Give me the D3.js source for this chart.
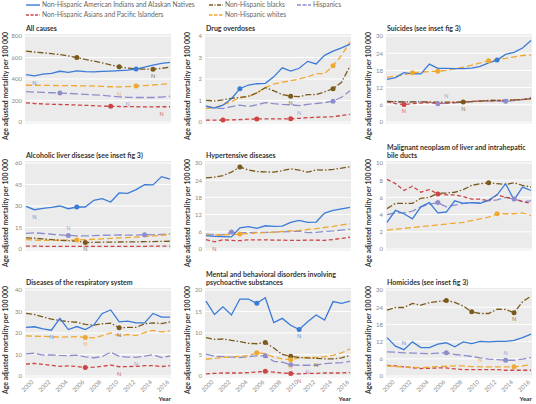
<!DOCTYPE html>
<html><head><meta charset="utf-8">
<script src="https://cdn.jsdelivr.net/npm/d3@7"></script>
<style>
body{margin:0;background:#fff}
text{font-family:Lato,"Open Sans",sans-serif}
</style>
</head><body>
<svg id="c" width="536" height="404"></svg>
<script>
// ---------- data ----------
const years = [1999,2000,2001,2002,2003,2004,2005,2006,2007,2008,2009,2010,2011,2012,2013,2014,2015,2016];
const xTickYears = [2000,2002,2004,2006,2008,2010,2012,2014,2016];
const seriesLabels = {
  aian:"Non-Hispanic American Indians and Alaskan Natives",
  black:"Non-Hispanic blacks",
  hisp:"Hispanics",
  asian:"Non-Hispanic Asians and Pacific Islanders",
  white:"Non-Hispanic whites"
};
const panelTitles = [
  ["All causes"],
  ["Drug overdoses"],
  ["Suicides (see inset fig 3)"],
  ["Alcoholic liver disease (see inset fig 3)"],
  ["Hypertensive diseases"],
  ["Malignant neoplasm of liver and intrahepatic","bile ducts"],
  ["Diseases of the respiratory system"],
  ["Mental and behavioral disorders involving","psychoactive substances"],
  ["Homicides (see inset fig 3)"]
];
const panelTicks = [
  [0,200,400,600,800],
  [0,1,2,3,4],
  [0,6,12,18,24,30],
  [0,15,30,45,60],
  [0,6,12,18,24,30],
  [0,2,4,6,8,10],
  [0,10,20,30,40],
  [0,5,10,15,20],
  [0,6,12,18,24,30]
];

const allCauses = {
  aian:[440,430,445,452,472,462,475,468,466,470,474,478,482,492,510,530,545,555],
  black:[660,651,644,636,627,614,600,582,566,550,531,513,501,494,492,491,499,510],
  hisp:[282,278,275,272,269,266,262,257,252,248,241,234,229,228,228,228,232,240],
  asian:[178,172,168,165,163,161,158,155,152,148,146,144,143,142,141,141,142,142],
  white:[342,342,340,340,338,338,337,336,334,332,328,327,329,334,339,344,350,357]
};
const drugOverdoses = {
  aian:[0.73,0.65,0.78,1.08,1.55,1.72,1.78,1.8,2.1,2.52,2.37,2.5,2.82,2.7,3.1,3.3,3.45,3.62],
  black:[1.01,0.98,1.03,1.1,1.14,1.2,1.35,1.6,1.45,1.28,1.2,1.18,1.27,1.28,1.4,1.55,1.85,2.6],
  hisp:[0.75,0.65,0.62,0.72,0.78,0.72,0.8,0.9,0.85,0.82,0.8,0.76,0.82,0.86,0.9,0.97,1.15,1.45],
  asian:[0.09,0.09,0.09,0.1,0.11,0.13,0.14,0.15,0.15,0.15,0.15,0.17,0.2,0.22,0.23,0.25,0.3,0.35],
  white:[0.62,0.68,0.8,0.95,1.12,1.18,1.35,1.6,1.76,1.85,1.92,2.0,2.1,2.25,2.25,2.62,3.1,3.72]
};
const suicides = {
  aian:[14.9,15.5,17.2,16.8,16.8,20.2,18.7,18.7,18.6,18.6,18.8,19.4,20.6,21.6,23.6,24.3,25.8,28.4],
  black:[7.2,7.1,7.0,7.0,7.0,7.0,6.9,6.9,6.9,7.0,7.1,7.3,7.5,7.5,7.6,7.7,7.9,8.1],
  hisp:[7.2,7.0,6.9,7.0,7.0,6.9,6.4,6.5,6.7,6.9,7.1,7.3,7.3,7.3,7.2,7.5,7.8,8.6],
  asian:[7.0,6.4,6.1,6.4,6.6,6.8,6.5,6.6,6.8,7.0,7.2,7.3,7.5,7.5,7.6,7.7,7.8,8.2],
  white:[15.6,16.0,16.5,17.2,17.4,17.6,17.7,18.0,18.5,19.1,19.8,20.6,21.4,21.8,22.2,22.7,23.2,23.4]
};
const alcoholLiver = {
  aian:[29.8,27.4,28.4,29.1,30.0,28.1,29.3,29.3,34.0,35.1,32.8,39.1,38.8,41.4,44.9,44.7,50.5,48.8],
  black:[7.8,7.5,7.0,6.6,6.1,5.8,5.4,4.5,4.6,4.8,4.8,4.9,5.0,5.0,5.1,5.2,5.3,5.4],
  hisp:[10.9,11.3,10.8,10.3,9.9,9.5,9.2,9.1,9.4,9.6,9.7,9.8,9.7,9.7,10.0,9.9,10.2,10.5],
  asian:[2,2,1.9,1.9,1.9,1.9,1.8,1.8,1.8,1.8,1.8,1.8,1.9,1.9,1.9,2,2,2],
  white:[6.6,6.2,6.0,6.0,6.1,6.2,6.3,6.5,6.8,7.1,7.4,7.7,8.0,8.3,8.7,9.1,9.6,10.1]
};
const hypertensive = {
  aian:[4.7,4.4,4.3,4.2,7.4,7.8,7.2,8.1,7.9,8.0,9.3,10.0,9.3,9.4,12.5,13.5,14.0,14.5],
  black:[24.8,25.1,25.6,26.8,28.6,27.6,27.0,26.9,26.8,27.3,28.0,27.5,26.8,27.6,27.5,27.8,28.2,28.7],
  hisp:[5.2,5.0,4.9,5.9,5.7,5.7,5.8,5.8,5.9,6.0,6.1,6.2,5.7,5.8,6.1,6.3,6.6,6.9],
  asian:[3.3,2.5,3.2,3.0,2.9,3.2,3.2,3.2,3.1,3.1,3.0,3.0,3.1,3.1,3.0,3.3,3.7,4.1],
  white:[5.0,4.8,4.9,5.0,5.2,5.4,5.6,5.7,5.9,6.1,6.3,6.5,6.8,7.1,7.5,7.9,8.4,8.8]
};
const liverCancer = {
  aian:[3.1,4.5,4.1,3.5,4.9,5.4,4.2,4.3,5.6,5.3,5.4,5.3,5.7,6.3,7.6,5.7,7.2,6.8],
  black:[4.7,5.3,5.3,5.3,5.9,6.0,6.5,6.5,6.6,6.9,7.4,7.6,7.7,7.6,7.5,7.7,7.4,7.2],
  hisp:[4.0,4.2,4.2,4.4,4.9,5.2,5.4,4.9,5.1,5.3,5.4,5.4,5.6,5.7,6.0,5.8,5.5,5.6],
  asian:[8.1,7.6,6.8,7.3,6.6,6.9,6.4,6.3,6.3,6.1,5.8,5.8,5.6,6.3,6.0,5.9,5.5,5.3],
  white:[2.2,2.3,2.4,2.5,2.6,2.7,2.8,2.9,3.0,3.1,3.3,3.5,3.7,4.1,4.1,4.1,4.2,3.9]
};
const respiratory = {
  aian:[22.6,22.9,21.9,21.3,26.8,21.6,23.0,21.6,23.7,29.1,30.7,25.2,25.5,24.7,24.7,29.1,27.4,27.4],
  black:[29.1,28.6,27.5,26.5,25.8,25.3,25.0,24.0,23.7,24.3,24.6,22.4,22.6,22.6,24.3,24.7,24.4,25.2],
  hisp:[10.3,10.6,9.7,9.8,9.6,9.5,9.7,8.9,8.5,9.0,11.1,9.1,8.8,8.7,9.2,9.9,8.6,9.3],
  asian:[5.5,5.9,5.4,5.0,4.5,4.7,4.4,3.9,4.1,4.5,5.1,4.3,4.4,4.5,4.8,4.8,4.4,4.8],
  white:[18.7,18.5,18.4,18.3,18.1,18.2,18.3,17.9,17.7,18.8,20.0,18.7,19.3,18.8,20.2,21.2,20.5,21.0]
};
const mentalSubstance = {
  aian:[17.4,14.3,16.1,14.2,17.9,17.9,16.9,18.2,12.4,13.4,11.8,10.8,12.6,14.2,13.0,17.3,16.9,17.4],
  black:[8.9,8.5,8.6,8.3,8.0,7.6,7.5,7.8,6.5,5.0,4.6,4.3,4.2,4.1,4.0,4.0,4.2,4.8],
  hisp:[5.1,4.6,4.5,4.4,4.3,4.5,4.7,4.7,3.4,3.2,2.6,2.5,2.5,2.5,2.9,3.0,3.1,3.4],
  asian:[0.5,0.6,0.7,0.7,0.7,0.8,0.9,1.1,0.9,0.7,0.6,0.5,0.6,0.6,0.7,0.7,0.7,0.8],
  white:[3.9,4.1,4.3,4.4,4.6,4.7,5.4,5.2,4.4,4.0,3.8,4.2,4.3,4.3,4.5,4.8,5.4,6.3]
};
const homicides = {
  aian:[13.4,10.4,9.2,11.9,9.9,9.9,11.1,11.6,10.2,11.9,11.3,12.1,11.9,12.1,12.1,12.4,13.4,14.6],
  black:[23.0,23.9,23.9,25.3,24.7,25.6,26.0,26.3,25.7,24.4,22.4,21.8,21.8,23.3,23.2,22.1,25.9,27.9],
  hisp:[8.4,8.3,8.1,8.0,7.9,7.8,8.0,8.1,7.5,7.2,6.8,6.3,5.9,5.7,5.5,5.5,5.9,6.4],
  asian:[3.7,3.5,3.2,2.9,2.6,2.7,2.8,2.8,2.5,2.2,2.2,2.2,2.2,2.2,2.0,2.0,2.0,2.0],
  white:[3.5,3.3,3.2,3.0,2.9,3.1,3.3,3.4,3.5,3.5,3.3,3.2,3.2,3.2,3.2,3.2,3.5,4.0]
};
const panelData = [allCauses, drugOverdoses, suicides, alcoholLiver, hypertensive, liverCancer, respiratory, mentalSubstance, homicides];

// highlighted points (series, year) per panel
const panelMarkers = [
  [["black",2005],["black",2010],["black",2014],["aian",2012],["white",2012],["hisp",2003],["asian",2009]],
  [["aian",2003],["white",2014],["black",2009],["black",2014],["hisp",2014],["asian",2001],["asian",2005],["asian",2009]],
  [["aian",2012],["white",2002],["white",2005],["white",2011],["black",2008],["asian",2001],["hisp",2005],["hisp",2013]],
  [["aian",2005],["hisp",2004],["hisp",2013],["white",2005],["black",2006]],
  [["black",2003],["hisp",2002],["white",2003]],
  [["asian",2005],["black",2011],["hisp",2005],["hisp",2014],["white",2012]],
  [["black",2010],["white",2006],["asian",2006]],
  [["aian",2005],["aian",2010],["black",2006],["black",2009],["white",2005],["white",2009],["hisp",2006],["hisp",2009],["asian",2006],["asian",2009]],
  [["black",2006],["black",2009],["black",2014],["hisp",2006],["hisp",2013],["white",2014]]
];
// "N" annotations (series, year, side: 1 below, -1 above)
const panelNotes = [
  [["aian",2000,1],["white",2010,1],["hisp",2011,1],["black",2014,1],["asian",2015,1]],
  [["black",2009,1],["hisp",2010,1]],
  [["asian",2001,1],["hisp",2006,-1],["black",2008,1]],
  [["aian",2000,1],["hisp",2004,-1],["black",2006,1]],
  [["asian",2000,1]],
  [],
  [["aian",2002,1],["black",2010,1],["white",2006,1],["hisp",2012,1],["asian",2010,1]],
  [["aian",2010,1],["white",2009,1],["black",2012,1],["hisp",2011,1],["asian",2010,1]],
  [["aian",2001,-1],["hisp",2013,-1],["white",2010,-1],["black",2014,1]]
];

// ---------- styles ----------
const colors = {aian:"#3a7bd8", black:"#7a5a1c", hisp:"#8d8dcc", asian:"#cc4444", white:"#f0a830"};
const dashes = {aian:null, black:"6,2,1.5,2", hisp:"8,3", asian:"4,2.5", white:"6,3"};
const legendDashes = {aian:null, black:"4,1.5,1,1.5", hisp:"4,1.5", asian:"3,1.5", white:"3.5,1.5"};
const drawOrder = ["hisp","asian","white","black","aian"];

const svg = d3.select("#c");
const colX = [26,206,387], rowY = [36,163,290], plotW = 144, plotH = 86;
const yLabelX = [6,188,369];

function fitSize(text, weight, target){
  const t = svg.append("text").attr("font-size",10).attr("font-weight",weight).text(text);
  const w = t.node().getComputedTextLength(); t.remove();
  return 10*target/w;
}
const legendFS = fitSize(seriesLabels.aian, "normal", 153);
const titleFS = fitSize("Alcoholic liver disease (see inset fig 3)", "bold", 117);
const yLabFS = fitSize("Age adjusted mortality per 100 000", "bold", 108);
const tickFS = fitSize("2016", "normal", 14);
const yearFS = fitSize("Year", "bold", 12.5);

// legend
const legendItems = [
  ["aian",26,5],["black",209,5],["hisp",297,5],
  ["asian",26,15],["white",209,15]
];
legendItems.forEach(([k,x,y])=>{
  svg.append("line").attr("x1",x).attr("x2",x+14).attr("y1",y).attr("y2",y)
    .attr("stroke",colors[k]).attr("stroke-width",1.4)
    .attr("stroke-dasharray", legendDashes[k]);
  svg.append("text").attr("x",x+16).attr("y",y).attr("dy","0.35em")
    .attr("font-size",legendFS).attr("fill","#666").text(seriesLabels[k]);
});

panelData.forEach((pd,i)=>{
  const c = i%3, r = Math.floor(i/3);
  const x0 = colX[c], y0 = rowY[r];
  const ticks = panelTicks[i];
  const x = d3.scaleLinear().domain([1999,2016]).range([x0, x0+plotW]);
  const y = d3.scaleLinear().domain([0, ticks[ticks.length-1]]).range([y0+plotH, y0]);
  const g = svg.append("g");

  g.append("rect").attr("x",x0-1).attr("y",y0-2).attr("width",plotW+2).attr("height",plotH+3.5).attr("fill","#ebebeb");
  g.selectAll(".gl").data(ticks).enter().append("line")
    .attr("x1",x0-1).attr("x2",x0+plotW+1).attr("y1",d=>y(d)).attr("y2",d=>y(d))
    .attr("stroke","#fff").attr("stroke-width",1);

  const ya = d3.axisLeft(y).tickValues(ticks).tickSize(0).tickPadding(3).tickFormat(d3.format("d"));
  const yg = g.append("g").attr("transform",`translate(${x0-1},0)`).call(ya);
  yg.select(".domain").remove();
  yg.selectAll("text").attr("font-size",tickFS).attr("fill","#888").attr("font-family",null);

  if (r===2) {
    const xa = d3.axisBottom(x).tickValues(xTickYears).tickSize(0).tickFormat(d3.format("d"));
    const xg = g.append("g").attr("transform",`translate(0,${y0+plotH})`).call(xa);
    xg.select(".domain").remove();
    xg.selectAll("text").attr("font-size",tickFS).attr("fill","#888").attr("font-family",null)
      .attr("text-anchor","end").attr("y",0).attr("dy",null)
      .attr("transform","translate(-1,6.5) rotate(-45)");
    g.append("text").attr("x",x0+plotW+1).attr("y",y0+plotH+25).attr("text-anchor","end")
      .attr("font-size",yearFS).attr("font-weight","bold").attr("fill","#333").text("Year");
  }

  const tl = panelTitles[i];
  tl.forEach((t,j)=>{
    g.append("text").attr("x",x0).attr("y", y0 - 5 - (tl.length-1-j)*8)
      .attr("font-size",titleFS).attr("font-weight","bold").attr("fill","#333").text(t);
  });

  g.append("text").attr("transform",`translate(${yLabelX[c]},${y0+plotH/2+7}) rotate(-90)`)
    .attr("text-anchor","middle").attr("dy","0.35em").attr("font-size",yLabFS).attr("font-weight","bold")
    .attr("fill","#333").text("Age adjusted mortality per 100 000");

  const line = d3.line().x((d,k)=>x(years[k])).y(d=>y(d));
  drawOrder.forEach(k=>{
    g.append("path").datum(pd[k]).attr("d",line).attr("fill","none")
      .attr("stroke",colors[k]).attr("stroke-width",1.3)
      .attr("stroke-dasharray",dashes[k]);
  });
  panelMarkers[i].forEach(([k,yr])=>{
    g.append("circle").attr("cx",x(yr)).attr("cy",y(pd[k][years.indexOf(yr)]))
      .attr("r",2.5).attr("fill",colors[k]);
  });
  panelNotes[i].forEach(([k,yr,side])=>{
    g.append("text").attr("x",x(yr)).attr("y",y(pd[k][years.indexOf(yr)]) + side*5)
      .attr("dy", side>0 ? "0.7em" : "0em").attr("text-anchor","middle")
      .attr("font-size",5.5).attr("fill",colors[k]).attr("opacity",0.8).text("N");
  });
});
</script>
</body></html>
